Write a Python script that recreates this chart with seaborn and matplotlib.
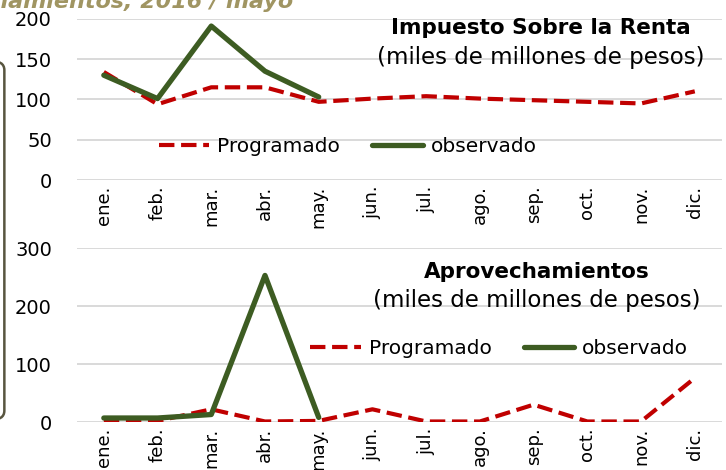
import matplotlib
matplotlib.use("Agg")
import matplotlib.pyplot as plt
import matplotlib.patches as patches
import seaborn as sns
import pandas as pd

meses = ['ene.', 'feb.', 'mar.', 'abr.', 'may.', 'jun.',
         'jul.', 'ago.', 'sep.', 'oct.', 'nov.', 'dic.']

# Impuesto Sobre la Renta (miles de millones de pesos)
isr_programado = [134, 94, 115, 115, 97, 101, 104, 101, 99, 97, 95, 110]
isr_observado = [130, 101, 191, 135, 103]

# Aprovechamientos (miles de millones de pesos)
apr_programado = [1, 2, 22, 1, 2, 22, 1, 1, 30, 1, 1, 76]
apr_observado = [7, 7, 13, 253, 8]

ROJO = '#C00000'
VERDE = '#3D5C22'
GRIS = '#D9D9D9'

sns.set_theme(style='white')
plt.rcParams['font.family'] = ['DejaVu Sans']
plt.rcParams['text.color'] = 'black'
plt.rcParams['xtick.color'] = 'black'
plt.rcParams['ytick.color'] = 'black'

fig = plt.figure(figsize=(7.26, 4.70), dpi=100)
ax1 = fig.add_axes([0.106, 0.617, 0.888, 0.343])
ax2 = fig.add_axes([0.106, 0.102, 0.888, 0.370])


def dibujar(ax, prog, obs, ymax, paso, titulo, pos):
    df_p = pd.DataFrame({'mes': meses, 'valor': prog})
    df_o = pd.DataFrame({'mes': meses[:len(obs)], 'valor': obs})
    sns.lineplot(data=df_p, x='mes', y='valor', ax=ax, color=ROJO, lw=3,
                 linestyle='--', dashes=(3.2, 1.6), label='Programado')
    sns.lineplot(data=df_o, x='mes', y='valor', ax=ax, color=VERDE, lw=3.8,
                 label='observado')
    ax.set_xlim(-0.5, 11.5)
    ax.set_ylim(0, ymax)
    ax.set_yticks(range(0, ymax + 1, paso))
    ax.set_xlabel('')
    ax.set_ylabel('')
    for s in ax.spines.values():
        s.set_visible(False)
    ax.yaxis.grid(True, color=GRIS, lw=1.4)
    ax.set_axisbelow(True)
    ax.tick_params(axis='x', labelrotation=90, labelsize=13, pad=4, length=0)
    ax.tick_params(axis='y', labelsize=14, pad=18, length=0)
    for t in ax.get_xticklabels():
        t.set_va('top')
    ax.text(pos[2], pos[3], titulo, transform=ax.transAxes,
            ha='center', va='center', fontsize=15.5, fontweight='bold')
    ax.text(pos[2], pos[4], '(miles de millones de pesos)',
            transform=ax.transAxes, ha='center', va='center', fontsize=16.5)
    ax.legend(loc='center', bbox_to_anchor=(pos[0], pos[1]), ncol=2,
              frameon=False, fontsize=14.5, handlelength=2.5,
              handletextpad=0.4, columnspacing=1.6)


dibujar(ax1, isr_programado, isr_observado, 200, 50,
        'Impuesto Sobre la Renta', (0.42, 0.205, 0.72, 0.945, 0.76))
dibujar(ax2, apr_programado, apr_observado, 300, 100,
        'Aprovechamientos', (0.655, 0.425, 0.713, 0.862, 0.70))

# restos del marco y titulo de la diapositiva
marco = patches.FancyBboxPatch((-0.2, 0.106), 0.206, 0.765,
                               boxstyle='round,pad=0,rounding_size=0.02',
                               transform=fig.transFigure, fill=False,
                               ec='#58553F', lw=1.8, clip_on=False)
fig.add_artist(marco)
fig.text(0.405, 0.983, 'Aprovechamientos, 2016 / mayo', ha='right',
         va='baseline', fontsize=16, fontweight='bold', fontstyle='italic',
         color='#A09562')

fig.savefig('out.png', dpi=100)
